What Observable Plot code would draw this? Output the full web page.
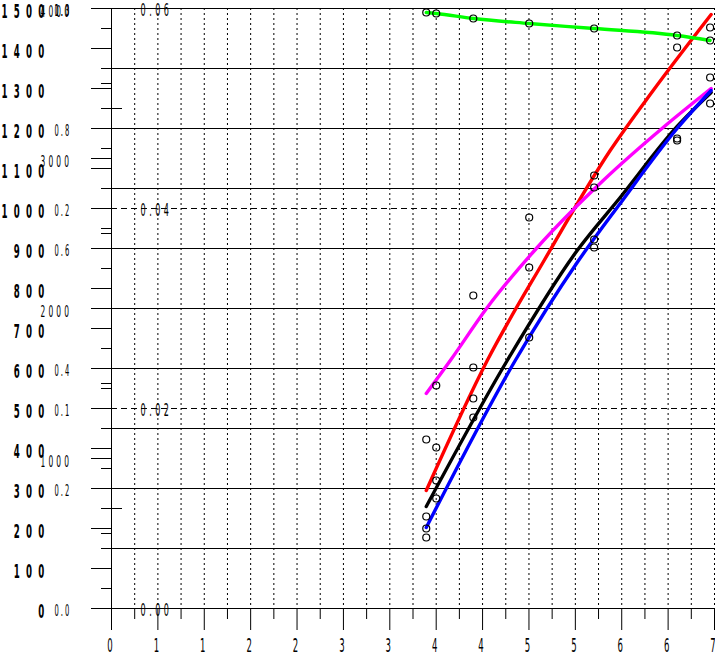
<!DOCTYPE html>
<html><head><meta charset="utf-8">
<script src="https://cdn.jsdelivr.net/npm/d3@7"></script>
<script src="https://cdn.jsdelivr.net/npm/@observablehq/plot@0.6"></script>
<style>
body{margin:0;background:#fff}
#chart svg{background:#fff;overflow:visible}
g[aria-description="big"] text{letter-spacing:13px}
g[aria-description="small"] text{letter-spacing:4px}
g[aria-description="thou"] text{letter-spacing:6px}
g[aria-description="frac"] text{letter-spacing:7px}
</style></head><body><div id="chart"></div>
<script>
// ---- data ----
// x positions of the observations
const obsX = [3.654, 3.770, 4.200, 4.849, 5.603, 6.566, 6.949];
// green series (top)
const greenY = [1490, 1487.5, 1475, 1462.5, 1450, 1432.5, 1420];
// scattered open circles (x, y)
const ptX = [3.654, 3.654, 3.654, 3.654, 3.770, 3.770, 3.770, 3.770, 4.200, 4.200, 4.200, 4.200,
             4.849, 4.849, 4.849, 5.603, 5.603, 5.603, 5.603, 6.566, 6.566, 6.566, 6.949, 6.949, 6.949];
const ptY = [422.5, 230, 200, 177.5, 557.5, 402.5, 320, 275, 782.5, 602.5, 525, 477.5,
             977.5, 852.5, 677.5, 1082.5, 1052.5, 922.5, 902.5, 1402.5, 1175, 1170, 1452.5, 1327.5, 1262.5];
// fitted curves
const redX = [3.654, 4.362, 5.022, 5.789, 6.288, 6.961];
const redY = [295, 620, 870, 1145, 1295, 1485];
const magX = [3.654, 3.933, 4.362, 4.942, 5.708, 6.404, 6.961];
const magY = [537.5, 620, 752.5, 902.5, 1070, 1202.5, 1300];
const blackX = [3.654, 4.594, 5.406, 5.905, 6.566, 6.961];
const blackY = [255, 620, 895, 1027.5, 1205, 1290];
const blueX = [3.654, 4.687, 5.406, 5.905, 6.566, 6.961];
const blueY = [202.5, 620, 865, 1012.5, 1200, 1295];
// tick values of the overlaid axes
const bigTicks = d3.range(0, 1501, 100);
const bigMinor = d3.range(50, 1500, 100);
const unitTicks = [0, 0.2, 0.4, 0.6, 0.8, 1.0];          // 0..1 axis
const unitGrid = d3.range(0, 11).map(i => i / 10);
const tenthTicks = [0.1, 0.2, 0.3];                       // 0..0.3 axis
const thouTicks = [1000, 2000, 3000, 4000];               // 0..4000 axis
const thouMinor = [500, 1500, 2500, 3500];
const fracTicks = [0, 0.02, 0.04, 0.06];                   // 0..0.06 axis
const fracMinor = [0.01, 0.03, 0.05];
const xMajor = d3.range(14).map(i => i * 7 / 13);
const xMinor = d3.range(13).map(i => (i + 0.5) * 7 / 13);
const xGrid = d3.range(1, 27).map(i => i * 7 / 26);

const narrow = "'DejaVu Sans Condensed','Liberation Sans Narrow',sans-serif";
const line = (X, Y, color) => Plot.line(X.map((x, i) => ({x, y: Y[i]})),
  {x: "x", y: "y", stroke: color, strokeWidth: 3.4, curve: "monotone-x"});

const chart = Plot.plot({
  width: 715, height: 664,
  marginLeft: 111, marginRight: 1, marginTop: 8, marginBottom: 56,
  x: {domain: [0, 7]},
  y: {domain: [0, 1500]},
  style: {background: "#fff", color: "#000"},
  marks: [
    Plot.gridX({ticks: xGrid, stroke: "#000", strokeOpacity: 1, strokeDasharray: "2,3"}),
    Plot.gridY({ticks: unitGrid.map(v => v * 1500), stroke: "#000", strokeOpacity: 1}),
    Plot.gridY({ticks: [0.02, 0.04].map(v => v / 0.06 * 1500), stroke: "#000", strokeOpacity: 1, strokeDasharray: "6,4"}),
    Plot.ruleX([0], {y1: -55, y2: 1500, stroke: "#000"}),
    Plot.axisY({ticks: bigTicks, tickSize: 20, tickFormat: () => "", label: null}),
    Plot.axisY({ticks: bigMinor, tickSize: 10, tickFormat: () => "", label: null}),
    Plot.axisY({ticks: thouTicks.map(v => v * 0.375), tickSize: 20, tickFormat: () => "", label: null}),
    Plot.axisY({ticks: thouMinor.map(v => v * 0.375), tickSize: 10, tickFormat: () => "", label: null}),
    Plot.axisY({ticks: fracMinor.map(v => v / 0.06 * 1500), tickSize: 21, dx: 11, tickFormat: () => "", label: null}),
    Plot.axisX({ticks: xMajor, tickSize: 22, tickFormat: () => "", label: null}),
    Plot.axisX({ticks: xMinor, tickSize: 11, tickFormat: () => "", label: null}),
    Plot.text(xMajor, {x: d => d, text: d => d.toFixed(0), frameAnchor: "bottom", dy: 43, dx: -1.5,
      fontFamily: narrow, fontSize: 19, ariaDescription: "xlab"}),
    Plot.text(bigTicks, {y: d => d, text: d => String(d), frameAnchor: "left", textAnchor: "end", dx: -61, dy: 3,
      fontFamily: narrow, fontSize: 20, fontWeight: "bold", ariaDescription: "big"}),
    Plot.text(unitTicks, {y: d => d * 1500, text: d => d.toFixed(1), frameAnchor: "left", textAnchor: "start", dx: -57, dy: 3,
      fontFamily: narrow, fontSize: 15, ariaDescription: "small"}),
    Plot.text(tenthTicks, {y: d => d * 5000, text: d => d.toFixed(1), frameAnchor: "left", textAnchor: "start", dx: -57, dy: 3,
      fontFamily: narrow, fontSize: 15, ariaDescription: "small"}),
    Plot.text(thouTicks, {y: d => d * 0.375, text: d => String(d), frameAnchor: "left", textAnchor: "start", dx: -71, dy: 3,
      fontFamily: narrow, fontSize: 16, ariaDescription: "thou"}),
    Plot.text(fracTicks, {y: d => d / 0.06 * 1500, text: d => d.toFixed(2), frameAnchor: "left", textAnchor: "start", dx: 29, dy: 2,
      fontFamily: narrow, fontSize: 18, ariaDescription: "frac"}),
    line(blackX, blackY, "#000000"),
    line(redX, redY, "#ff0000"),
    line(magX, magY, "#ff00ff"),
    line(blueX, blueY, "#0000ff"),
    line(obsX, greenY, "#00ff00"),
    Plot.dot(obsX.map((x, i) => ({x, y: greenY[i]})), {x: "x", y: "y", r: 3.5, stroke: "#000", strokeWidth: 1.2, fill: "none"}),
    Plot.dot(ptX.map((x, i) => ({x, y: ptY[i]})), {x: "x", y: "y", r: 3.5, stroke: "#000", strokeWidth: 1.2, fill: "none"})
  ]
});
// narrow the glyphs horizontally, like the reference's condensed lettering
const squeeze = {big: 0.48, small: 0.5, thou: 0.52, frac: 0.5, xlab: 0.5};
d3.select(chart).selectAll("g[aria-description]").each(function() {
  const s = squeeze[this.getAttribute("aria-description")];
  if (!s) return;
  d3.select(this).selectAll("text").attr("transform", function() {
    return (this.getAttribute("transform") || "") + ` scale(${s},1)`;
  });
});
document.getElementById("chart").appendChild(chart);
</script></body></html>
